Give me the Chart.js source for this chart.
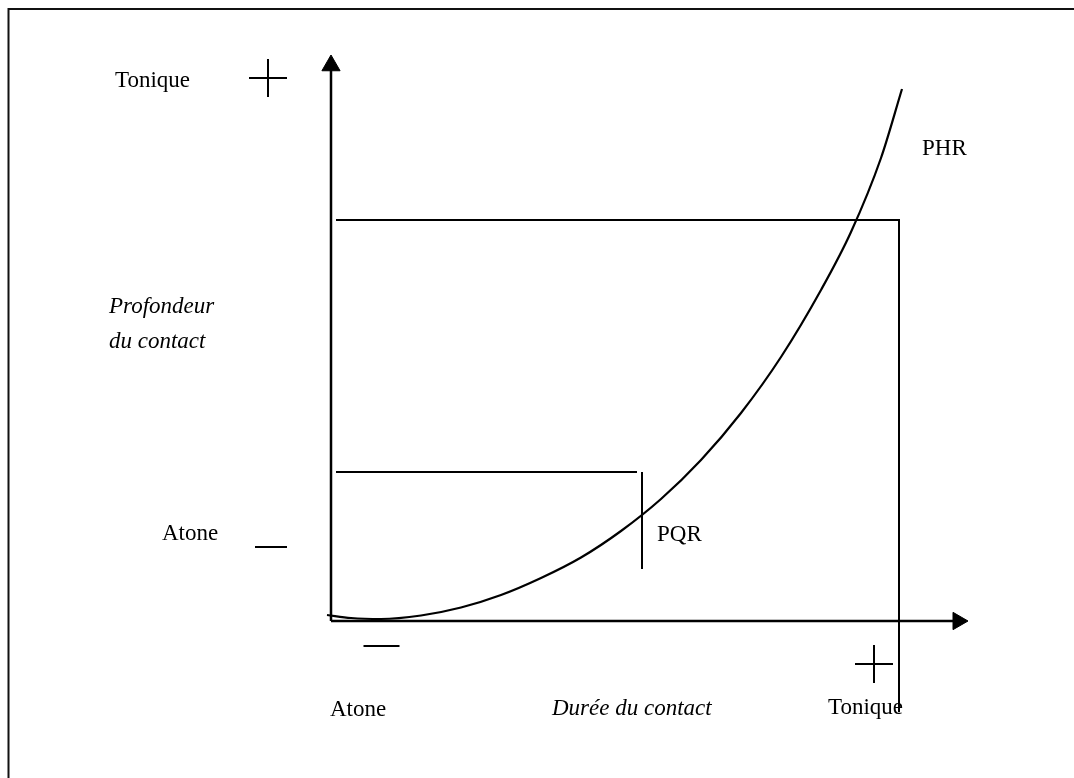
<!DOCTYPE html>
<html>
<head>
<meta charset="utf-8">
<script src="https://cdn.jsdelivr.net/npm/chart.js@4/dist/chart.umd.min.js"></script>
<style>
  html, body { margin: 0; padding: 0; background: #fff; }
  #wrap { width: 1074px; height: 778px; }
</style>
</head>
<body>
<div id="wrap"><canvas id="diagram" width="1074" height="778"></canvas></div>
<script>
// units: axes cross at 0,0 ; duree to the right, profondeur upwards
const phrX = [-0.4, 2, 5, 9, 13, 17, 21, 25, 29, 33, 37, 41, 45, 49, 52, 55, 57.1];
const phrY = [0.6, 0.3, 0.2, 0.55, 1.35, 2.6, 4.3, 6.35, 9.0, 12.2, 16.1, 20.8, 26.4, 33.1, 38.9, 46.3, 53.2];

const bigBoxX = [0.5, 56.8, 56.8];
const bigBoxY = [40.1, 40.1, -9.1];
const pqrTopX = [0.5, 30.6];
const pqrTopY = [14.9, 14.9];
const pqrBarX = [31.1, 31.1];
const pqrBarY = [14.9, 5.2];

const dureeAxisX = [0, 62.7];
const dureeAxisY = [0, 0];
const profAxisX = [0, 0];
const profAxisY = [0, 55.55];

const signStyle = ["cross", "line", "line", "cross"];
const signX = [-6.3, -6.0, 5.05, 54.3];
const signY = [54.3, 7.4, -2.5, -4.3];
const signSize = [19, 16, 18, 19];

const labels = ["Tonique", "PHR", "Profondeur", "du contact", "Atone", "PQR", "Atone", "Durée du contact", "Tonique"];
const labelX = [-21.6, 59.1, -22.2, -22.2, -16.9, 32.6, -0.1, 22.1, 49.7];
const labelY = [53.4, 46.6, 30.8, 27.3, 8.1, 8.0, -9.5, -9.4, -9.3];
const labelItalic = [false, false, true, true, false, false, false, true, false];

const pts = (xs, ys) => xs.map((v, i) => ({ x: v, y: ys[i] }));

const lineSet = (xs, ys, extra) => Object.assign({
  data: pts(xs, ys),
  showLine: true,
  borderColor: "#000",
  borderWidth: 2,
  pointRadius: 0,
  tension: 0,
  clip: false,
}, extra || {});

const frame = {
  id: "frame",
  beforeDraw(chart) {
    const ctx = chart.ctx;
    ctx.save();
    ctx.fillStyle = "#fff";
    ctx.fillRect(0, 0, chart.width, chart.height);
    ctx.strokeStyle = "#111";
    ctx.lineWidth = 2;
    ctx.beginPath();
    ctx.moveTo(chart.width, 9);
    ctx.lineTo(8.5, 9);
    ctx.lineTo(8.5, chart.height);
    ctx.stroke();
    ctx.restore();
  },
};

const texts = {
  id: "texts",
  afterDatasetsDraw(chart) {
    const { ctx, scales: { x, y } } = chart;
    ctx.save();
    ctx.fillStyle = "#000";
    ctx.textBaseline = "alphabetic";
    ctx.textAlign = "left";
    labels.forEach((t, i) => {
      ctx.font = (labelItalic[i] ? "italic " : "") + '23px "Liberation Serif", serif';
      ctx.fillText(t, x.getPixelForValue(labelX[i]), y.getPixelForValue(labelY[i]));
    });
    ctx.restore();
  },
};

new Chart(document.getElementById("diagram").getContext("2d"), {
  type: "scatter",
  data: {
    datasets: [
      lineSet(phrX, phrY, { cubicInterpolationMode: "monotone", borderWidth: 2.2 }),
      lineSet(bigBoxX, bigBoxY),
      lineSet(pqrTopX, pqrTopY),
      lineSet(pqrBarX, pqrBarY),
      lineSet(dureeAxisX, dureeAxisY, {
        borderWidth: 2.5,
        pointRadius: [0, 10],
        pointStyle: "triangle",
        rotation: [0, 90],
        backgroundColor: "#000",
        pointBorderWidth: 1,
      }),
      lineSet(profAxisX, profAxisY, {
        borderWidth: 2.5,
        pointRadius: [0, 10.5],
        pointStyle: "triangle",
        backgroundColor: "#000",
        pointBorderWidth: 1,
      }),
      {
        data: pts(signX, signY),
        showLine: false,
        pointStyle: signStyle,
        pointRadius: signSize,
        borderColor: "#000",
        pointBorderWidth: 2,
        clip: false,
      },
    ],
  },
  options: {
    responsive: false,
    animation: false,
    devicePixelRatio: 1,
    layout: { padding: 0, autoPadding: false },
    plugins: {
      legend: { display: false },
      tooltip: { enabled: false },
    },
    events: [],
    scales: {
      x: { type: "linear", display: false, min: -33.1, max: 74.3 },
      y: { type: "linear", display: false, min: -15.7, max: 62.1 },
    },
  },
  plugins: [frame, texts],
});
</script>
</body>
</html>
